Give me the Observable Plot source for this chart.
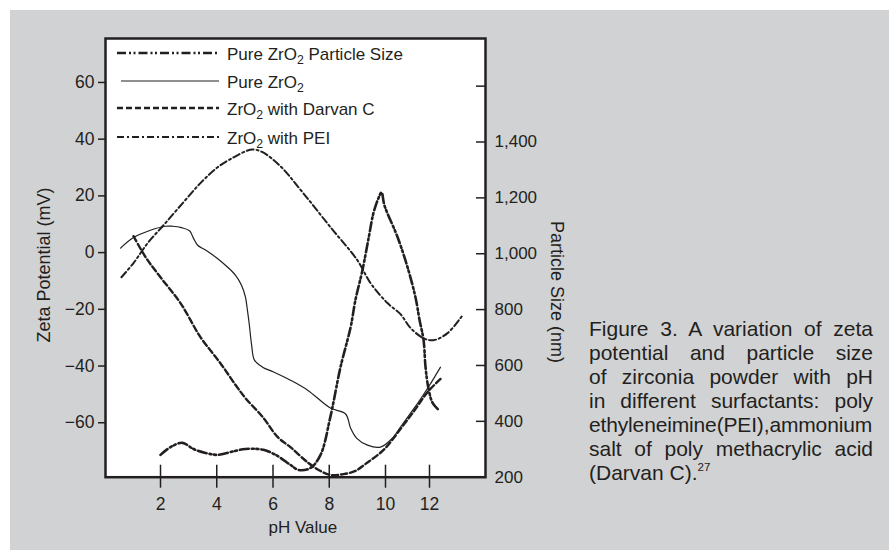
<!DOCTYPE html>
<html>
<head>
<meta charset="utf-8">
<script src="https://cdn.jsdelivr.net/npm/d3@7"></script>
<script src="https://cdn.jsdelivr.net/npm/@observablehq/plot@0.6"></script>
<style>
  html, body { margin: 0; padding: 0; background: #ffffff; }
  body { width: 889px; height: 550px; position: relative; overflow: hidden;
         font-family: "Liberation Sans", Arial, Helvetica, sans-serif; color: #231f20; }
  #panel { position: absolute; left: 10px; top: 10px; width: 879px; height: 540px; background: #d1d2d4; }
  #chart { position: absolute; left: 0; top: 0; }
  .axis-label { position: absolute; white-space: nowrap; line-height: 1; }
  #legend { position: absolute; left: 0; top: 0; }
  .lg-row { position: absolute; height: 28px; display: flex; align-items: center; font-size: 17px; white-space: nowrap; }
  .lg-row span.t { position: relative; top: 2px; margin-left: 8px; }
  sub { font-size: 0.72em; vertical-align: -0.3em; line-height: 0; }
  #caption { position: absolute; left: 589px; top: 316.7px; width: 284px; font-size: 21px; line-height: 24px; }
  #caption div { text-align: justify; text-align-last: justify; white-space: nowrap; }
  #caption div.last { text-align: left; text-align-last: left; }
  #caption sup { font-size: 0.55em; vertical-align: baseline; position: relative; top: -0.75em; line-height: 0; }
</style>
</head>
<body>
<div id="panel"></div>
<div id="chart"></div>
<div id="legend"></div>
<div class="axis-label" id="ylabel" style="font-size:18px;"></div>
<div class="axis-label" id="y2label" style="font-size:18px;"></div>
<div class="axis-label" id="xlabel" style="font-size:17px;"></div>
<div id="caption"></div>
<script>
// ---------------- data ----------------
// Pure ZrO2 zeta potential (mV) vs pH
const purePH = [0.58,1.04,1.64,2.18,2.43,2.75,3.03,3.17,3.32,3.60,3.99,4.35,4.67,4.88,5.02,5.09,5.16,5.24,5.34,5.63,6.02,6.62,7.23,8.04,8.58,8.76,8.97,9.36,9.82,10.32,10.68,11.14,11.5,11.95,12.23,12.5];
const pureZeta = [1.6,5.3,7.9,9.3,9.3,8.8,7.7,5.1,2.6,0.9,-1.8,-4.8,-8.0,-11.5,-15.7,-20.3,-25.6,-32.6,-37.9,-40.4,-42.1,-45.0,-48.5,-54.8,-56.9,-61.9,-65.4,-67.9,-68.6,-65.4,-61.5,-56.6,-52.7,-47.4,-43.9,-40.4];

// ZrO2 with Darvan C zeta potential (mV)
const darvanPH = [1.04,1.47,2.0,2.71,3.42,4.13,4.67,5.02,5.66,6.16,6.62,7.26,7.69,8.04,8.51,8.93,9.29,9.93,10.68,11.36,11.91,12.59];
const darvanZeta = [5.8,-1.6,-8.7,-17.8,-29.8,-39.0,-46.7,-51.3,-58.3,-65.0,-68.6,-74.2,-77.0,-78.4,-78.1,-77.0,-74.5,-69.6,-62.2,-55.2,-49.2,-43.9];

// ZrO2 with PEI zeta potential (mV)
const peiPH = [0.61,1.04,1.54,2.11,2.82,3.42,4.03,4.60,5.02,5.27,5.63,6.27,7.08,8.04,9.0,9.47,10.09,10.68,11.14,11.73,12.18,12.82,13.5];
const peiZeta = [-8.7,-3.7,3.3,9.7,17.8,24.5,30.1,33.6,35.7,36.4,35.4,30.4,20.9,9.0,-2.7,-10.8,-17.8,-21.7,-26.6,-30.2,-30.9,-28.4,-22.1];

// Pure ZrO2 particle size (nm, right axis)
const sizePH = [2.0,2.36,2.78,3.17,3.6,4.03,4.49,5.02,5.66,6.16,6.62,6.91,7.33,7.69,8.04,8.4,8.76,8.93,9.18,9.40,9.57,9.75,9.86,9.96,10.55,11.0,11.36,11.55,11.73,11.82,11.95,12.14,12.41];
const sizeNm = [280,308,323,301,287,280,290,301,298,276,244,226,233,280,416,594,737,834,941,1056,1145,1199,1220,1174,1059,952,845,762,691,594,519,466,441];

// axes
const xTicks = [2, 4, 6, 8, 10, 12];
const zetaTicks = [-60, -40, -20, 0, 20, 40, 60];
const sizeTicks = [200, 400, 600, 800, 1000, 1200, 1400, 1600];
const sizeTickLabels = ["200", "400", "600", "800", "1,000", "1,200", "1,400", ""];
// right-axis calibration: particle size (nm) <-> zeta-axis position (mV)
const sizeCalibNm = [200, 1400];
const sizeCalibZeta = [-79.2, 39.0];

const seriesNames = ["Pure ZrO₂ Particle Size", "Pure ZrO₂", "ZrO₂ with Darvan C", "ZrO₂ with PEI"];

// ---------------- build ----------------
const ink = "#231f20";
const FONT = "'Liberation Sans', Arial, Helvetica, sans-serif";
const toZeta = d3.scaleLinear().domain(sizeCalibNm).range(sizeCalibZeta);

const zip = (xs, ys, key) => xs.map((x, i) => ({pH: x, v: ys[i], series: key}));
const pure = zip(purePH, pureZeta, seriesNames[1]);
const darvan = zip(darvanPH, darvanZeta, seriesNames[2]);
const pei = zip(peiPH, peiZeta, seriesNames[3]);
const size = zip(sizePH, sizeNm.map(toZeta), seriesNames[0]);

const styles = {
  size:   {stroke: ink, strokeWidth: 2.6, strokeDasharray: "9,3,2,2.5,2,3"},
  pure:   {stroke: ink, strokeWidth: 1.2},
  darvan: {stroke: ink, strokeWidth: 2.4, strokeDasharray: "6,3"},
  pei:    {stroke: ink, strokeWidth: 2.0, strokeDasharray: "7,3,2,3"}
};

const rightTickPos = sizeTicks.map(toZeta);
const rightLabelMap = new Map(rightTickPos.map((p, i) => [p, sizeTickLabels[i]]));

const chart = Plot.plot({
  width: 560,
  height: 550,
  marginLeft: 105,
  marginRight: 75,
  marginTop: 38,
  marginBottom: 73.3,
  style: {background: "transparent", fontFamily: FONT, fontSize: "17px", color: ink, overflow: "visible"},
  x: {type: "linear", domain: [0.044, 10, 12, 14.545], range: [105, 385, 429, 485]},
  y: {domain: [-79.2, 75.5]},
  marks: [
    Plot.frame({fill: "white"}),
    Plot.line(darvan, {x: "pH", y: "v", curve: "catmull-rom", ...styles.darvan}),
    Plot.line(pei, {x: "pH", y: "v", curve: "catmull-rom", ...styles.pei}),
    Plot.line(pure, {x: "pH", y: "v", curve: "catmull-rom", ...styles.pure}),
    Plot.line(size, {x: "pH", y: "v", curve: "catmull-rom", ...styles.size}),
    Plot.frame({stroke: ink, strokeWidth: 2.5}),
    // left axis (zeta potential)
    Plot.axisY({anchor: "left", ticks: zetaTicks, tickSize: 7, tickPadding: 4, label: null,
                fontSize: 17.5, strokeWidth: 1.5, tickFormat: d => d < 0 ? "\u2212" + Math.abs(d) : String(d)}),
    // right axis (particle size): inward ticks, labels outside
    Plot.axisY({anchor: "right", ticks: rightTickPos, tickSize: 10, dx: -10, strokeWidth: 1.5,
                fill: "none", label: null}),
    Plot.axisY({anchor: "right", ticks: rightTickPos, tickSize: 0, tickPadding: 9, fontSize: 17,
                label: null, tickFormat: d => rightLabelMap.get(d)}),
    // bottom axis: ticks crossing the frame line
    Plot.axisX({anchor: "bottom", ticks: xTicks, tickSize: 23, dy: -12, strokeWidth: 1.5,
                fill: "none", label: null}),
    Plot.axisX({anchor: "bottom", ticks: xTicks, tickSize: 0, tickPadding: 20, fontSize: 17.5, label: null})
  ]
});
document.getElementById("chart").appendChild(chart);

// ---------------- legend ----------------
const legendRows = [
  {name: seriesNames[0], style: styles.size,   cy: 53.3,  x1: 117},
  {name: seriesNames[1], style: styles.pure,   cy: 80.5,  x1: 121},
  {name: seriesNames[2], style: styles.darvan, cy: 108.3, x1: 117},
  {name: seriesNames[3], style: styles.pei,    cy: 136.7, x1: 117}
];
const legend = document.getElementById("legend");
const subHTML = s => s.replace(/₂/g, "<sub>2</sub>");
legendRows.forEach(r => {
  const row = document.createElement("div");
  row.className = "lg-row";
  row.style.left = r.x1 + "px";
  row.style.top = (r.cy - 14) + "px";
  const w = 219 - r.x1;
  row.innerHTML =
    `<svg width="${w}" height="10" style="display:block"><line x1="0" x2="${w}" y1="5" y2="5" stroke="${r.style.stroke}" stroke-width="${r.style.strokeWidth}" ${r.style.strokeDasharray ? `stroke-dasharray="${r.style.strokeDasharray}"` : ""}/></svg>` +
    `<span class="t">${subHTML(r.name)}</span>`;
  legend.appendChild(row);
});

// ---------------- axis titles ----------------
function place(id, text, cx, cy, rot) {
  const el = document.getElementById(id);
  el.textContent = text;
  const w = el.offsetWidth, h = el.offsetHeight;
  el.style.left = (cx - w / 2) + "px";
  el.style.top = (cy - h / 2) + "px";
  if (rot) el.style.transform = `rotate(${rot}deg)`;
}
place("ylabel", "Zeta Potential (mV)", 43.5, 264.5, -90);
place("y2label", "Particle Size (nm)", 557, 291.5, 90);
place("xlabel", "pH Value", 303, 527, 0);

// ---------------- caption ----------------
const captionLines = [
  "Figure 3. A variation of zeta",
  "potential and particle size",
  "of zirconia powder with pH",
  "in different surfactants: poly",
  "ethyleneimine(PEI),ammonium",
  "salt of poly methacrylic acid"
];
const captionLast = "(Darvan C).";
const captionRef = "27";
const cap = document.getElementById("caption");
captionLines.forEach((t, i) => {
  const d = document.createElement("div");
  d.textContent = t;
  if (i === 4) d.style.letterSpacing = "-0.15px";
  cap.appendChild(d);
});
const last = document.createElement("div");
last.className = "last";
last.textContent = captionLast;
const sup = document.createElement("sup");
sup.textContent = captionRef;
last.appendChild(sup);
cap.appendChild(last);
</script>
</body>
</html>
